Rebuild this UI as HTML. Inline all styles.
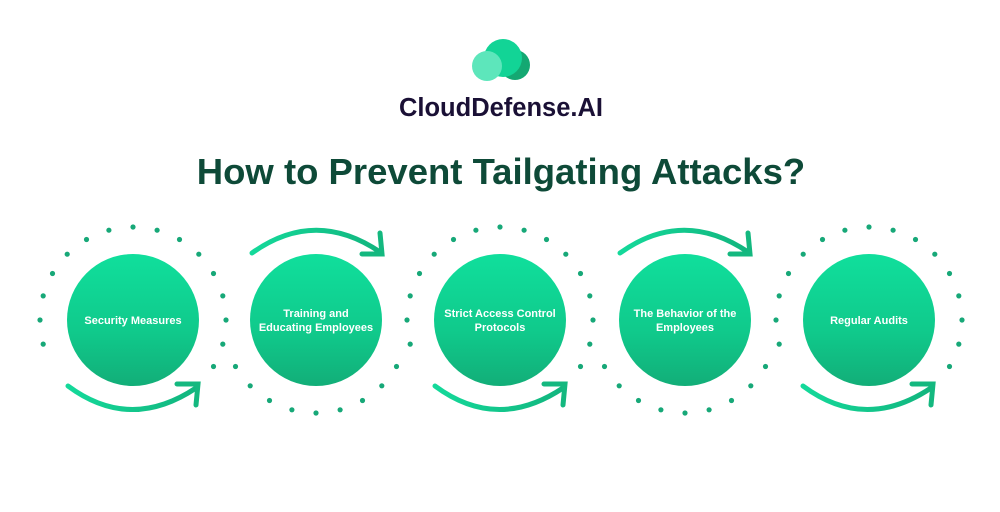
<!DOCTYPE html>
<html><head><meta charset="utf-8"><style>
html,body{margin:0;padding:0;background:#fff;}
body{width:1000px;height:512px;overflow:hidden;position:relative;font-family:"Liberation Sans",sans-serif;}
</style></head><body>
<svg width="1000" height="512" xmlns="http://www.w3.org/2000/svg" style="position:absolute;left:0;top:0">
<defs>
<linearGradient id="g" x1="0" y1="0" x2="0" y2="1">
<stop offset="0" stop-color="#10df9c"/><stop offset="0.6" stop-color="#10c98b"/><stop offset="1" stop-color="#12ae78"/>
</linearGradient>
<linearGradient id="ga" x1="0" y1="0" x2="1" y2="0">
<stop offset="0" stop-color="#14d99a"/><stop offset="1" stop-color="#12b57e"/>
</linearGradient>
</defs>
<circle cx="515" cy="65" r="15" fill="#14a872"/>
<circle cx="503" cy="58" r="19" fill="#12d496"/>
<circle cx="487" cy="66" r="15" fill="#5de6bb"/>
<text x="501" y="116" text-anchor="middle" font-family="Liberation Sans" font-weight="bold" font-size="25.5" fill="#1a1035">CloudDefense.AI</text>
<text x="501" y="184" text-anchor="middle" font-family="Liberation Sans" font-weight="bold" font-size="36.5" fill="#0e4a38">How to Prevent Tailgating Attacks?</text>
<g id="dots" fill="#17a878"></g>
<g fill="url(#g)">
<circle cx="133" cy="320" r="66"/><circle cx="316" cy="320" r="66"/><circle cx="500" cy="320" r="66"/><circle cx="685" cy="320" r="66"/><circle cx="869" cy="320" r="66"/>
</g>
<g fill="#fff" font-family="Liberation Sans" font-weight="bold" font-size="11" text-anchor="middle">
<text x="133" y="324">Security Measures</text>
<text x="316" y="317">Training and</text><text x="316" y="331">Educating Employees</text>
<text x="500" y="317">Strict Access Control</text><text x="500" y="331">Protocols</text>
<text x="685" y="317">The Behavior of the</text><text x="685" y="331">Employees</text>
<text x="869" y="324">Regular Audits</text>
</g>
<g fill="none" stroke="url(#ga)" stroke-width="5" stroke-linecap="round">
<g id="ab"><path d="M68 386 Q130 432 196 388"/><path d="M177 384 L198 384 L196 405" stroke="#14b87f"/></g>
<use href="#ab" x="367"/><use href="#ab" x="735"/>
<g id="at"><path d="M252 253 Q315 208 380 252"/><path d="M380 233 L382 254 L362 254" stroke="#14b87f"/></g>
<use href="#at" x="368"/>
</g>
</svg>
<script>
var g=document.getElementById('dots'),s='';
function ring(cx,a0,a1){for(var a=a0;a<=a1;a+=15){var t=a*Math.PI/180;s+='<circle cx="'+(cx+93*Math.cos(t)).toFixed(1)+'" cy="'+(320+93*Math.sin(t)).toFixed(1)+'" r="2.6"/>';}}
ring(133,165,390);ring(316,30,150);ring(500,165,390);ring(685,30,150);ring(869,165,390);
g.innerHTML=s;
</script>
</body></html>
